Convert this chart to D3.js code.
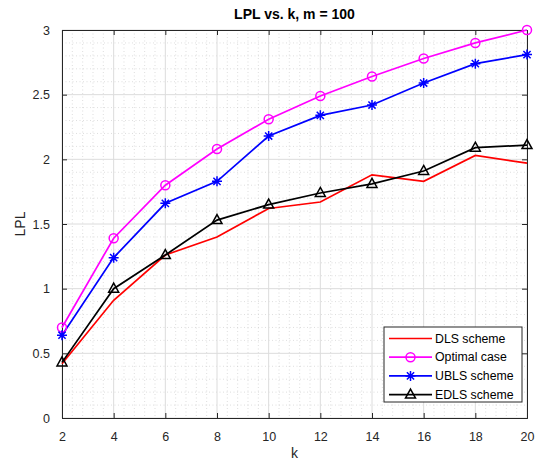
<!DOCTYPE html>
<html><head><meta charset="utf-8">
<script src="https://cdn.jsdelivr.net/npm/d3@7"></script>
<style>body{margin:0;background:#fff}svg{display:block;font-family:"Liberation Sans",Arial,sans-serif}</style>
</head><body>
<svg id="c" width="539" height="465"></svg>
<script>
const kValues = [2,4,6,8,10,12,14,16,18,20];
const dls     = [0.42,0.91,1.26,1.40,1.62,1.67,1.88,1.83,2.03,1.97];
const optimal = [0.70,1.39,1.80,2.08,2.31,2.49,2.64,2.78,2.90,3.00];
const ubls    = [0.64,1.24,1.66,1.83,2.18,2.34,2.42,2.59,2.74,2.81];
const edls    = [0.43,1.00,1.26,1.53,1.65,1.74,1.81,1.91,2.09,2.11];
const seriesNames = ["DLS scheme","Optimal case","UBLS scheme","EDLS scheme"];
const xTicks = [2,4,6,8,10,12,14,16,18,20];
const yTicks = [0,0.5,1,1.5,2,2.5,3];
const yTickLabels = ["0","0.5","1","1.5","2","2.5","3"];
const titleText = "LPL vs. k, m = 100";
const xLabel = "k", yLabel = "LPL";

const svg = d3.select("#c");
const L=62,R=527,T=30,B=418;
const x = d3.scaleLinear().domain([2,20]).range([L,R]);
const y = d3.scaleLinear().domain([0,3]).range([B,T]);
const axisCol = "#262626";

// minor grid
const g = svg.append("g");
const xMinor = d3.range(2,20.001,0.4).filter(v=>Math.abs(v/2-Math.round(v/2))>1e-6);
const yMinor = d3.range(0,3.001,0.1).filter(v=>Math.abs(v/0.5-Math.round(v/0.5))>1e-6);
g.selectAll(".mx").data(xMinor).enter().append("line")
 .attr("x1",d=>x(d)).attr("x2",d=>x(d)).attr("y1",T).attr("y2",B)
 .attr("stroke","#c8c8c8").attr("stroke-width",0.6).attr("stroke-dasharray","1,2.5");
g.selectAll(".my").data(yMinor).enter().append("line")
 .attr("y1",d=>y(d)).attr("y2",d=>y(d)).attr("x1",L).attr("x2",R)
 .attr("stroke","#c8c8c8").attr("stroke-width",0.6).attr("stroke-dasharray","1,2.5");
// major grid
g.selectAll(".gx").data(xTicks).enter().append("line")
 .attr("x1",d=>x(d)).attr("x2",d=>x(d)).attr("y1",T).attr("y2",B)
 .attr("stroke","#dcdcdc").attr("stroke-width",1);
g.selectAll(".gy").data(yTicks).enter().append("line")
 .attr("y1",d=>y(d)).attr("y2",d=>y(d)).attr("x1",L).attr("x2",R)
 .attr("stroke","#dcdcdc").attr("stroke-width",1);

// axes
const xAx = svg.append("g").attr("transform",`translate(0,${B})`)
 .call(d3.axisBottom(x).tickValues(xTicks).tickSize(-5).tickPadding(14).tickFormat(d3.format("d")));
const xAxTop = svg.append("g").attr("transform",`translate(0,${T})`)
 .call(d3.axisTop(x).tickValues(xTicks).tickSize(-5).tickFormat(""));
const yAx = svg.append("g").attr("transform",`translate(${L},0)`)
 .call(d3.axisLeft(y).tickValues(yTicks).tickSize(-5).tickPadding(12).tickFormat((d,i)=>yTickLabels[i]));
const yAxR = svg.append("g").attr("transform",`translate(${R},0)`)
 .call(d3.axisRight(y).tickValues(yTicks).tickSize(-5).tickFormat(""));
[xAx,xAxTop,yAx,yAxR].forEach(a=>{
  a.select(".domain").attr("stroke",axisCol).attr("stroke-width",1);
  a.selectAll(".tick line").attr("stroke",axisCol);
  a.selectAll(".tick text").attr("fill",axisCol).attr("font-size",12.5);
});

// title & labels
svg.append("text").attr("x",(L+R)/2).attr("y",19).attr("text-anchor","middle")
 .attr("font-weight","bold").attr("font-size",14).attr("fill","#000").text(titleText);
svg.append("text").attr("x",(L+R)/2).attr("y",458).attr("text-anchor","middle")
 .attr("font-size",14).attr("fill",axisCol).text(xLabel);
svg.append("text").attr("transform",`translate(25,${(T+B)/2}) rotate(-90)`).attr("text-anchor","middle")
 .attr("font-size",14).attr("fill",axisCol).text(yLabel);

// series
const series = [
 {name:seriesNames[0],vals:dls,color:"#ff0000",marker:null},
 {name:seriesNames[1],vals:optimal,color:"#ff00ff",marker:"circle"},
 {name:seriesNames[2],vals:ubls,color:"#0000ff",marker:"star"},
 {name:seriesNames[3],vals:edls,color:"#000000",marker:"tri"}
];
function drawMarker(sel,type,color){
  if(type==="circle"){
    sel.append("circle").attr("r",4.5).attr("fill","none").attr("stroke",color).attr("stroke-width",1.5);
  } else if(type==="star"){
    const s=5, d=3.6;
    sel.append("path").attr("d",`M0,${-s}V${s}M${-s},0H${s}M${-d},${-d}L${d},${d}M${-d},${d}L${d},${-d}`)
     .attr("stroke",color).attr("stroke-width",1.5).attr("fill","none");
  } else if(type==="tri"){
    sel.append("path").attr("d","M0,-5.5L5,3.5L-5,3.5Z").attr("fill","none").attr("stroke",color).attr("stroke-width",1.5);
  }
}
const line = d3.line().x((d,i)=>x(kValues[i])).y(d=>y(d));
series.forEach(s=>{
  svg.append("path").datum(s.vals).attr("d",line).attr("fill","none")
   .attr("stroke",s.color).attr("stroke-width",1.7);
});
series.forEach(s=>{
  if(!s.marker) return;
  s.vals.forEach((v,i)=>{
    const m = svg.append("g").attr("transform",`translate(${x(kValues[i])},${y(v)})`);
    drawMarker(m,s.marker,s.color);
  });
});

// legend
const lg = svg.append("g").attr("transform","translate(384,327)");
lg.append("rect").attr("width",138).attr("height",75).attr("fill","#fff").attr("stroke",axisCol).attr("stroke-width",1);
series.forEach((s,i)=>{
  const yy = 11.5 + i*18.7;
  lg.append("line").attr("x1",5).attr("x2",48).attr("y1",yy).attr("y2",yy).attr("stroke",s.color).attr("stroke-width",1.7);
  if(s.marker){ const m=lg.append("g").attr("transform",`translate(26.5,${yy})`); drawMarker(m,s.marker,s.color); }
  lg.append("text").attr("x",51).attr("y",yy+4).attr("font-size",12.3).attr("fill","#000").text(s.name);
});
</script>
</body></html>
